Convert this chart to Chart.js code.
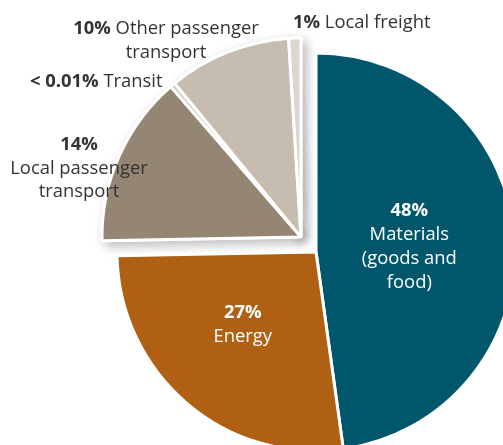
<!DOCTYPE html>
<html>
<head>
<meta charset="utf-8">
<script src="https://cdn.jsdelivr.net/npm/chart.js@4.4.0/dist/chart.umd.min.js"></script>
<style>
  html, body { margin: 0; padding: 0; background: #fff; overflow: hidden; width: 503px; height: 445px; }
  #wrap { position: absolute; left: 0; top: 0; width: 560px; height: 500px; }
</style>
</head>
<body>
<div id="wrap"><canvas id="chart"></canvas></div>
<script>
// slices, clockwise from 12 o'clock
const categories = ['Materials (goods and food)', 'Energy', 'Local passenger transport', 'Transit', 'Other passenger transport', 'Local freight'];
const shares = [48, 27, 14, 0.4, 10, 1]; // transit is "< 0.01%", drawn as the thin sliver seen in the picture
const shareLabels = ['48%', '27%', '14%', '< 0.01%', '10%', '1%'];
const sliceColors = ['#00566a', '#b06013', '#948672', '#cdc5b9', '#c6bdb0', '#ddd6cc'];
const explodedSlices = [2, 3, 4, 5];

const FONT = '"Open Sans", "Noto Sans", sans-serif';
const font = (bold) => (bold ? '700 ' : '400 ') + '18.4px ' + FONT;

// one line made of bold / normal pieces
function drawRuns(ctx, runs, x, y, align) {
  const widths = runs.map(([t, b]) => { ctx.font = font(b); return ctx.measureText(t).width; });
  const total = widths.reduce((a, w) => a + w, 0);
  let cx = align === 'center' ? x - total / 2 : x;
  runs.forEach(([t, b], i) => {
    ctx.font = font(b);
    ctx.fillText(t, cx, y);
    cx += widths[i];
  });
}

// move the small transport slices out together, up and to the left
const explodePlugin = {
  id: 'explode',
  afterDatasetUpdate(chart, args) {
    args.meta.data.forEach((arc, i) => {
      if (explodedSlices.includes(i)) {
        arc.x -= 15;
        arc.y -= 15;
      }
    });
  },
  beforeDatasetsDraw(chart) {
    const ctx = chart.ctx;
    const meta = chart.getDatasetMeta(0);
    ctx.save();
    ctx.shadowColor = 'rgba(0, 0, 0, 0.25)';
    ctx.shadowBlur = 12;
    ctx.shadowOffsetX = 4;
    ctx.shadowOffsetY = 4;
    explodedSlices.forEach(i => meta.data[i].draw(ctx));
    ctx.restore();
  }
};

const labelPlugin = {
  id: 'sliceLabels',
  afterDatasetsDraw(chart) {
    const ctx = chart.ctx;
    const meta = chart.getDatasetMeta(0);
    ctx.save();
    ctx.textBaseline = 'alphabetic';

    // labels inside the two big slices
    const inside = [
      { i: 0, k: 0.47, dx: 0, dy: 6, lines: [[[shareLabels[0], true]], [['Materials', false]], [['(goods and', false]], [['food)', false]]] },
      { i: 1, k: 0.52, dx: -6, dy: -1, lines: [[[shareLabels[1], true]], [['Energy', false]]] }
    ];
    ctx.fillStyle = '#ffffff';
    inside.forEach(l => {
      const arc = meta.data[l.i];
      const mid = (arc.startAngle + arc.endAngle) / 2;
      const px = arc.x + Math.cos(mid) * arc.outerRadius * l.k + l.dx;
      const py = arc.y + Math.sin(mid) * arc.outerRadius * l.k;
      const lh = 24;
      let y = py - (l.lines.length - 1) * lh / 2 + l.dy;
      l.lines.forEach(runs => { drawRuns(ctx, runs, px, y, 'center'); y += lh; });
    });

    // labels outside the exploded slices
    const outside = [
      { align: 'left', x: 293, y: 28, lines: [[[shareLabels[5], true], [' Local freight', false]]] },
      { align: 'center', x: 166, y: 34, lines: [[[shareLabels[4], true], [' Other passenger', false]], [['transport', false]]] },
      { align: 'left', x: 30, y: 87, lines: [[[shareLabels[3], true], [' Transit', false]]] },
      { align: 'center', x: 79, y: 150, lines: [[[shareLabels[2], true]], [['Local passenger', false]], [['transport', false]]] }
    ];
    ctx.fillStyle = '#333333';
    outside.forEach(l => {
      let y = l.y;
      l.lines.forEach(runs => { drawRuns(ctx, runs, l.x, y, l.align); y += 23.5; });
    });
    ctx.restore();
  }
};

new Chart(document.getElementById('chart'), {
  type: 'pie',
  data: {
    labels: categories,
    datasets: [{
      data: shares,
      backgroundColor: sliceColors,
      borderColor: '#ffffff',
      borderWidth: 3
    }]
  },
  options: {
    responsive: true,
    maintainAspectRatio: false,
    animation: false,
    radius: 199,
    layout: { padding: { left: 100, right: 28, top: 60, bottom: 56 } },
    plugins: {
      legend: { display: false },
      tooltip: { enabled: false }
    }
  },
  plugins: [explodePlugin, labelPlugin]
});
</script>
</body>
</html>
